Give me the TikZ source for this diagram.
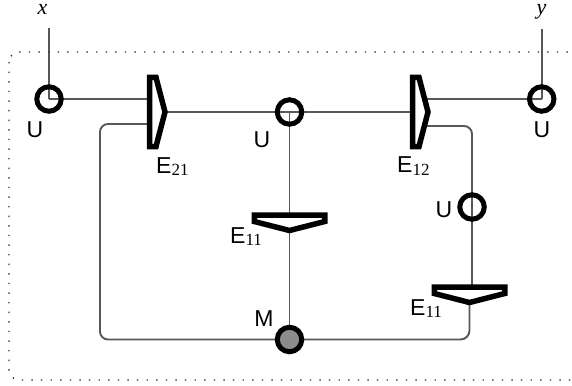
\documentclass[tikz,border=0pt]{standalone}
\usepackage{fontspec}
\setmainfont{Liberation Serif}
\setsansfont{Liberation Sans}
\definecolor{linegray}{HTML}{585858}
\definecolor{mgray}{HTML}{8C8C8C}
\newcommand{\gsub}[1]{\raisebox{-2.5pt}{\rmfamily\fontsize{17}{17}\selectfont #1}}
\pgfdeclarelayer{bg}
\pgfsetlayers{bg,main}
\tikzset{
  conn/.style={draw=linegray, line width=1.9pt},
  ucirc/.style={circle, draw=black, line width=5pt, minimum size=24.5pt, inner sep=0pt},
  mcirc/.style={ucirc, fill=mgray},
  gate/.style={draw=black, line width=5.5pt, line join=miter, fill=white},
  lbl/.style={font=\sffamily\fontsize{23}{23}\selectfont, inner sep=0pt},
  glbl/.style={font=\sffamily\fontsize{23}{23}\selectfont, inner sep=0pt, anchor=base west},
  io/.style={font=\rmfamily\itshape\fontsize{22}{22}\selectfont, inner sep=0pt, anchor=base},
  frame/.style={draw=black!80, line width=1.4pt, dash pattern=on 1.4pt off 8.2pt, rounded corners=10pt},
  vgate/.pic={
    \draw[gate] (0,-34.5) -- (6.5,-34.5) -- (15.5,0) -- (6.5,34.5) -- (0,34.5) -- cycle;
    \coordinate (-in) at (0,0);
    \coordinate (-in1) at (0,-13);
    \coordinate (-in2) at (0,12);
    \coordinate (-out) at (15.5,0);
    \coordinate (-out1) at (12,-13);
    \coordinate (-out2) at (12,14);
  },
  hgate/.pic={
    \draw[gate] (-35.25,0) -- (35.25,0) -- (35.25,6.5) -- (0,15.5) -- (-35.25,6.5) -- cycle;
    \coordinate (-in) at (0,0);
    \coordinate (-out) at (0,15.5);
  }
}
\begin{document}
\begin{tikzpicture}[x=1pt,y=-1pt]
\useasboundingbox (0,0) rectangle (572,385);
\clip (0,0) rectangle (572,385);
% frame
\draw[frame] (9,52) rectangle (620,380);

% gates
\pic (E21) at (149.5,112) {vgate};
\pic (E12) at (412.5,112) {vgate};
\pic (E11a) at (289.5,215) {hgate};
\pic (E11b) at (469.5,287) {hgate};

% circles
\node[ucirc] (U1) at (49,99) {};
\node[ucirc] (U2) at (289.5,112) {};
\node[ucirc] (U3) at (541.7,99) {};
\node[ucirc] (U4) at (472,207) {};
\node[mcirc] (M) at (289.5,339.5) {};

% io ends
\coordinate (xin) at (49,28);
\coordinate (yout) at (541.7,29);

% labels
\node[io] (xl) at (42.5,15) {x};
\node[io] (yl) at (541.5,15) {y};
\node[lbl] (U1l) at (35,129.5) {U};
\node[lbl] (U2l) at (262,139.5) {U};
\node[lbl] (U3l) at (542,129.5) {U};
\node[lbl] (U4l) at (444,210) {U};
\node[lbl] (Ml) at (264,319) {M};
\node[glbl] (E21l) at (156,173) {E\gsub{21}};
\node[glbl] (E12l) at (397,172.5) {E\gsub{12}};
\node[glbl] (E11al) at (230,243.3) {E\gsub{11}};
\node[glbl] (E11bl) at (410,315) {E\gsub{11}};

% connectors
\begin{pgfonlayer}{bg}
\draw[conn] (xin) -- (U1.center);
\draw[conn] (U1.center) -- (E21-in1);
\draw[conn] (E21-out) -- (U2.center);
\draw[conn] (U2.center) -- (E12-in);
\draw[conn] (U2.center) -- (E11a-in);
\draw[conn] (E11a-out) -- (M.center);
\draw[conn, rounded corners=8pt] (M.center) -| ([xshift=-49.5pt]E21-in2) -- (E21-in2);
\draw[conn] (E12-out1) -- (U3.center);
\draw[conn] (yout) -- (U3.center);
\draw[conn, rounded corners=8pt] (E12-out2) -| (U4.center);
\draw[conn] (U4.center) -- (U4.center |- E11b-in);
\draw[conn, rounded corners=9pt] (E11b-out) |- (M.center);
\end{pgfonlayer}
\end{tikzpicture}
\end{document}
